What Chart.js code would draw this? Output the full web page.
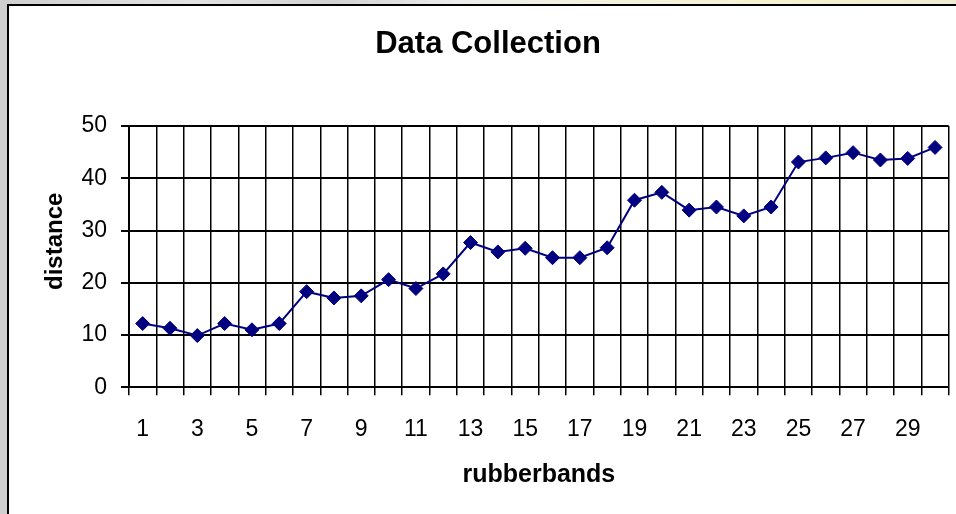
<!DOCTYPE html>
<html>
<head>
<meta charset="utf-8">
<script src="https://cdn.jsdelivr.net/npm/chart.js@4"></script>
<style>
  html, body { margin: 0; padding: 0; width: 956px; height: 514px; overflow: hidden; }
  body {
    position: relative;
    background: linear-gradient(to right, #cfcfcf 0%, #e2e2e2 20%, #d2d2d2 35%, #ececec 48%, #f3f1df 60%, #f6f3d4 80%, #efecd0 100%);
  }
  #frame {
    position: absolute; left: 7px; top: 4px; width: 980px; height: 540px;
    border: 2px solid #000; background: #fff;
  }
  #chart { position: absolute; left: 0; top: 0; }
</style>
</head>
<body>
<div id="frame"><canvas id="chart" width="958" height="510"></canvas></div>
<script>
// rubber bands used (1..30) and the distance reached for each
const rubberbands = [1, 2, 3, 4, 5, 6, 7, 8, 9, 10, 11, 12, 13, 14, 15,
                     16, 17, 18, 19, 20, 21, 22, 23, 24, 25, 26, 27, 28, 29, 30];
const distance = [12.2, 11.3, 9.9, 12.2, 11.0, 12.2, 18.3, 17.1, 17.5, 20.6,
                  18.9, 21.7, 27.7, 25.9, 26.6, 24.8, 24.8, 26.7, 35.8, 37.3,
                  33.9, 34.5, 32.8, 34.5, 43.1, 43.9, 44.9, 43.5, 43.8, 45.9];
const yTicks = [0, 10, 20, 30, 40, 50];

const chartTitle = 'Data Collection';
const xTitle = 'rubberbands';
const yTitle = 'distance';

const FONT = '"Liberation Sans", Arial, Helvetica, sans-serif';

// axis titles placed by hand (y title sits a little above the plot centre)
const axisTitles = {
  id: 'axisTitles',
  afterDraw(chart) {
    const { ctx, chartArea } = chart;
    ctx.save();
    ctx.fillStyle = '#000';
    ctx.font = 'bold 25px ' + FONT;
    ctx.textAlign = 'center';
    ctx.textBaseline = 'alphabetic';
    ctx.fillText(xTitle, (chartArea.left + chartArea.right) / 2, 475.7);
    ctx.translate(52.7, 235.3);
    ctx.rotate(-Math.PI / 2);
    ctx.font = 'bold 24px ' + FONT;
    ctx.fillText(yTitle, 0, 0);
    ctx.restore();
  }
};

new Chart(document.getElementById('chart'), {
  type: 'line',
  data: {
    labels: rubberbands.map(String),
    datasets: [{
      data: distance,
      borderColor: '#000080',
      backgroundColor: '#000080',
      borderWidth: 2,
      pointStyle: 'rectRot',
      pointRadius: 7,
      pointBorderWidth: 1,
      pointBorderColor: '#000080',
      pointBackgroundColor: '#000080',
      tension: 0,
      fill: false
    }]
  },
  options: {
    responsive: false,
    animation: false,
    devicePixelRatio: 1,
    layout: { padding: { left: 18.3, right: 18.3, top: 0, bottom: 0 } },
    plugins: {
      legend: { display: false },
      tooltip: { enabled: false },
      title: {
        display: true,
        text: chartTitle,
        color: '#000',
        font: { family: FONT, size: 31, weight: 'bold', lineHeight: 1.2 },
        padding: { top: 19.6, bottom: 63.2 }
      }
    },
    scales: {
      x: {
        type: 'category',
        offset: true,
        afterFit(scale) { scale.height = 128.7; },
        grid: {
          offset: true,
          color: '#000',
          lineWidth: 1.5,
          drawTicks: true,
          tickLength: 8
        },
        border: { display: true, color: '#000', width: 2 },
        ticks: {
          autoSkip: false,
          maxRotation: 0,
          minRotation: 0,
          padding: 21,
          color: '#000',
          font: { family: FONT, size: 23 },
          callback(value, index) {
            return index % 2 === 0 ? rubberbands[index] : '';
          }
        }
      },
      y: {
        min: yTicks[0],
        max: yTicks[yTicks.length - 1],
        afterFit(scale) { scale.width = 101.7; },
        afterBuildTicks(scale) { scale.ticks = yTicks.map(v => ({ value: v })); },
        grid: {
          color: '#000',
          lineWidth: 2,
          drawTicks: true,
          tickLength: 8
        },
        border: { display: true, color: '#000', width: 2 },
        ticks: {
          padding: 14,
          color: '#000',
          font: { family: FONT, size: 23 }
        }
      }
    }
  },
  plugins: [axisTitles]
});
</script>
</body>
</html>
